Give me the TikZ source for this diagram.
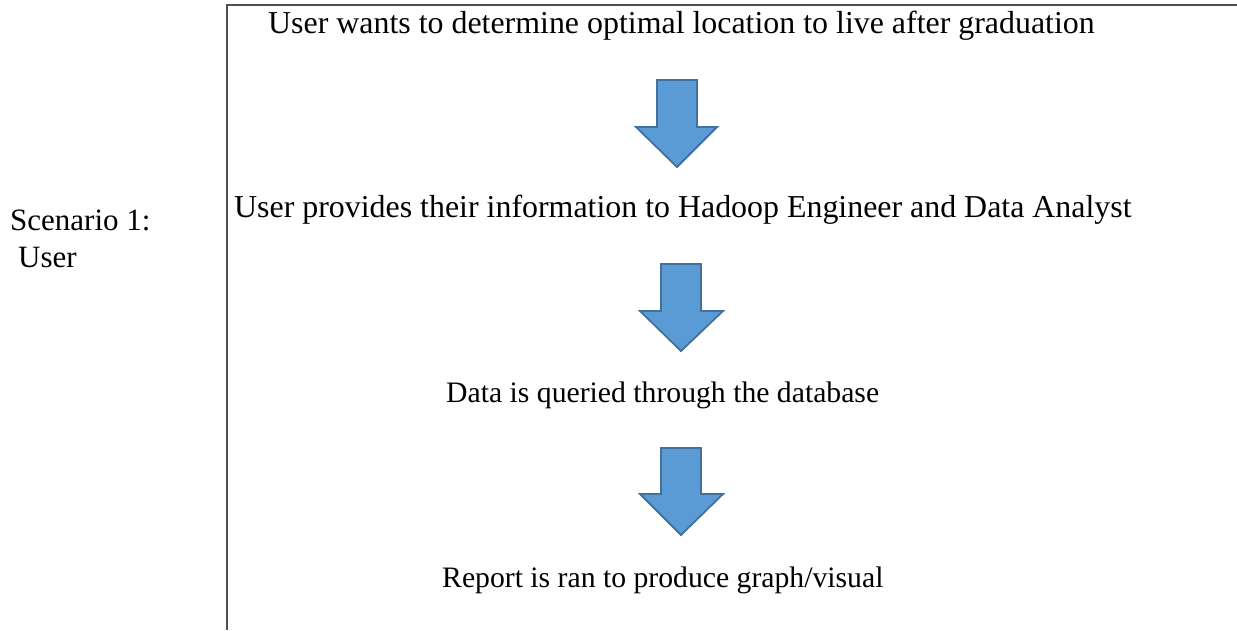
\documentclass[tikz,border=0pt]{standalone}
\usepackage{fontspec}
\setmainfont{Liberation Serif}
\definecolor{arrowfill}{HTML}{5B9BD5}
\definecolor{arrowdraw}{HTML}{41719C}
\definecolor{framecol}{HTML}{505050}
\begin{document}
\begin{tikzpicture}[x=1pt,y=-1pt,
  txt/.style={anchor=base west,inner sep=0pt,font=\fontsize{29.7}{37}\selectfont},
  bigtxt/.style={txt,font=\fontsize{31.9}{38}\selectfont},
  sidetxt/.style={txt,font=\fontsize{31}{37}\selectfont},
  blockarrow/.style={fill=arrowfill,draw=arrowdraw,line width=1.8pt,line join=miter},
  frameline/.style={draw=framecol,line width=1.5pt}]
\useasboundingbox (0,0) rectangle (1237,630);
\fill[white] (0,0) rectangle (1237,630);
% frame
\draw[frameline] (1237,5) -- (227,5) -- (227,630);
% texts
\node[bigtxt] (s1) at (268,33) {User wants to determine optimal location to live after graduation};
\node[bigtxt] (s2) at (234,217) {User provides their information to Hadoop Engineer and Data Analyst};
\node[txt] (s3) at (446,402) {Data is queried through the database};
\node[txt] (s4) at (442,587) {Report is ran to produce graph/visual};
\node[sidetxt] (sc) at (10,230) {Scenario 1:};
\node[sidetxt] (scu) at (18,267) {User};
% block arrows
\draw[blockarrow] (657,80) -- (697,80) -- (697,127) -- (717,127) -- (677,167) -- (636,127) -- (657,127) -- cycle;
\draw[blockarrow] (661,264) -- (701,264) -- (701,311) -- (723,311) -- (681,351) -- (640,311) -- (661,311) -- cycle;
\draw[blockarrow] (661,448) -- (701,448) -- (701,494) -- (723,494) -- (681,535) -- (640,494) -- (661,494) -- cycle;
\end{tikzpicture}
\end{document}
